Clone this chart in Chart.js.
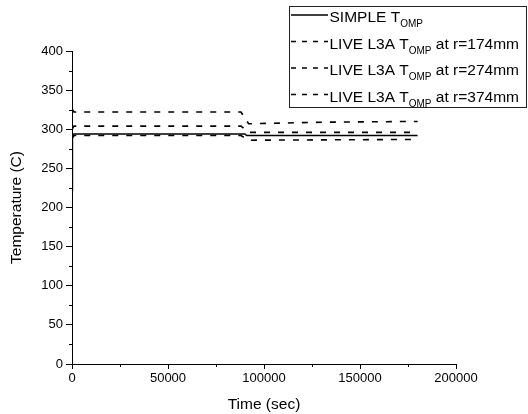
<!DOCTYPE html>
<html><head><meta charset="utf-8">
<script src="https://cdn.jsdelivr.net/npm/chart.js@4.4.1/dist/chart.umd.min.js"></script>
<style>html,body{margin:0;padding:0;background:#fff}#wrap{width:528px;height:414px}</style>
</head><body><div id="wrap"><canvas id="c" width="528" height="414"></canvas></div>
<script>
// Data
const simpleTime = [0, 200, 90000, 91000, 180000];
const simpleTemp = [222, 294, 294, 292, 292];
const r174Time = [0, 1000, 88000, 92000, 130000, 180000];
const r174Temp = [326, 322, 322, 307, 309, 310];
const r274Time = [0, 1000, 88000, 92000, 180000];
const r274Temp = [300, 304, 304, 296, 296];
const r374Time = [0, 1000, 88000, 92000, 180000];
const r374Temp = [288, 292, 292, 286, 287];
const xTicks = [0, 50000, 100000, 150000, 200000];
const yTicks = [0, 50, 100, 150, 200, 250, 300, 350, 400];
const xMinor = [25000, 75000, 125000, 175000];
const yMinor = [25, 75, 125, 175, 225, 275, 325, 375];
const legendLabels = [
  {pre: 'SIMPLE T', sub: 'OMP', post: ''},
  {pre: 'LIVE L3A T', sub: 'OMP', post: ' at r=174mm'},
  {pre: 'LIVE L3A T', sub: 'OMP', post: ' at r=274mm'},
  {pre: 'LIVE L3A T', sub: 'OMP', post: ' at r=374mm'}
];

const pts = (t, v) => t.map((x, i) => ({x: x, y: v[i]}));
const FONT = '"Liberation Sans", Arial, sans-serif';
const DASH = [6, 8];

const minorTicks = {
  id: 'minorTicks',
  afterDraw(chart) {
    const ctx = chart.ctx, xs = chart.scales.x, ys = chart.scales.y;
    const a = chart.chartArea;
    ctx.save();
    ctx.strokeStyle = '#000'; ctx.lineWidth = 1;
    ctx.beginPath();
    xMinor.forEach(v => { const p = Math.round(xs.getPixelForValue(v)) + 0.5; ctx.moveTo(p, a.bottom); ctx.lineTo(p, a.bottom + 3); });
    yMinor.forEach(v => { const p = Math.round(ys.getPixelForValue(v)) + 0.5; ctx.moveTo(a.left, p); ctx.lineTo(a.left - 3, p); });
    ctx.stroke();
    ctx.restore();
  }
};

const customLegend = {
  id: 'customLegend',
  afterDraw(chart) {
    const ctx = chart.ctx;
    const bx = 289.5, by = 6.5, bw = 237, bh = 101;
    ctx.save();
    ctx.fillStyle = '#fff';
    ctx.fillRect(bx, by, bw, bh);
    ctx.strokeStyle = '#222'; ctx.lineWidth = 1;
    ctx.strokeRect(bx, by, bw, bh);
    const rows = [15, 41.5, 68, 94.5];
    chart.data.datasets.forEach((ds, i) => {
      const y = rows[i];
      ctx.strokeStyle = '#000'; ctx.lineWidth = 1.6;
      ctx.setLineDash(ds.borderDash && ds.borderDash.length ? [5, 6] : []);
      ctx.beginPath(); ctx.moveTo(291, y); ctx.lineTo(328, y); ctx.stroke();
      ctx.setLineDash([]);
      const l = legendLabels[i];
      ctx.fillStyle = '#000';
      ctx.textBaseline = 'alphabetic';
      ctx.font = '15.5px ' + FONT;
      let x = 329.5;
      ctx.fillText(l.pre, x, y + 7);
      x += ctx.measureText(l.pre).width;
      ctx.font = '10px ' + FONT;
      ctx.fillText(l.sub, x, y + 12);
      x += ctx.measureText(l.sub).width;
      ctx.font = '15.5px ' + FONT;
      ctx.fillText(l.post, x, y + 7);
    });
    ctx.restore();
  }
};

const lineDs = (label, t, v, dash) => ({
  label: label, data: pts(t, v), borderColor: '#000', borderWidth: 1.6,
  borderDash: dash, pointRadius: 0, tension: 0, fill: false
});

new Chart(document.getElementById('c'), {
  type: 'line',
  data: {
    datasets: [
      lineDs('SIMPLE', simpleTime, simpleTemp, []),
      lineDs('r174', r174Time, r174Temp, DASH),
      lineDs('r274', r274Time, r274Temp, DASH),
      lineDs('r374', r374Time, r374Temp, DASH)
    ]
  },
  options: {
    responsive: false, animation: false,
    layout: {padding: {top: 51, right: 72, left: 0, bottom: 0}},
    plugins: {legend: {display: false}, tooltip: {enabled: false}},
    scales: {
      x: {
        type: 'linear', min: 0, max: 200000,
        afterFit: s => { s.height = 50; },
        afterBuildTicks: s => { s.ticks = xTicks.map(v => ({value: v})); },
        ticks: {color: '#000', font: {family: FONT, size: 13}, padding: 2, maxRotation: 0, autoSkip: false, callback: v => String(v)},
        grid: {drawOnChartArea: false, drawTicks: true, tickLength: 5, color: '#000'},
        border: {display: true, color: '#000', width: 1},
        title: {display: true, text: 'Time (sec)', color: '#000', font: {family: FONT, size: 15.5}, padding: {top: 0, bottom: 0}}
      },
      y: {
        type: 'linear', min: 0, max: 400,
        afterFit: s => { s.width = 72; },
        afterBuildTicks: s => { s.ticks = yTicks.map(v => ({value: v})); },
        ticks: {color: '#000', font: {family: FONT, size: 13}, padding: 3, autoSkip: false, callback: v => String(v)},
        grid: {drawOnChartArea: false, drawTicks: true, tickLength: 6, color: '#000'},
        border: {display: true, color: '#000', width: 1},
        title: {display: true, text: 'Temperature (C)', color: '#000', font: {family: FONT, size: 15.5}, padding: {top: 7, bottom: 0}}
      }
    }
  },
  plugins: [minorTicks, customLegend]
});
</script></body></html>
